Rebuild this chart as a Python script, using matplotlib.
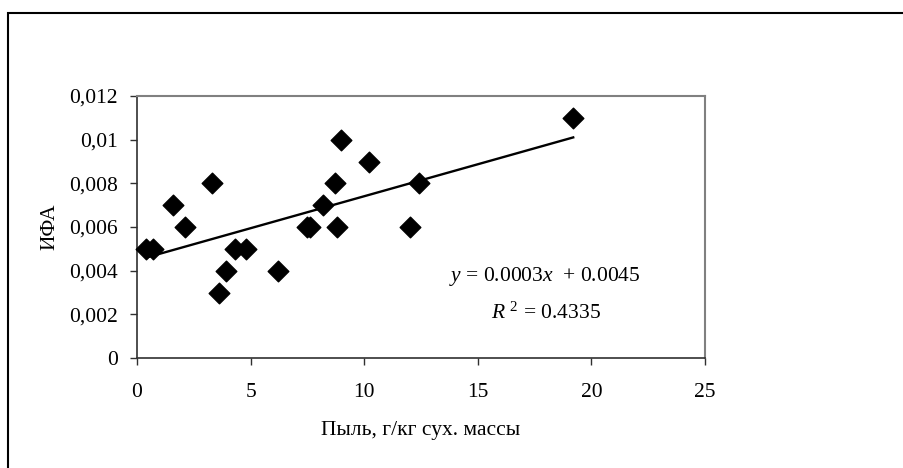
import numpy as np
import matplotlib
matplotlib.use("Agg")
import matplotlib.pyplot as plt
from matplotlib.patches import Rectangle
from matplotlib.ticker import FixedLocator

# Data
dust = [0.4, 0.7, 1.6, 2.1, 3.3, 3.6, 3.9, 4.3, 4.8, 6.2,
        7.5, 7.6, 8.2, 8.7, 8.8, 9.0, 10.2, 12.0, 12.4, 19.2]
ifa = [0.005, 0.005, 0.007, 0.006, 0.008, 0.003, 0.004, 0.005, 0.005, 0.004,
       0.006, 0.006, 0.007, 0.008, 0.006, 0.010, 0.009, 0.006, 0.008, 0.011]
x_ticks = [0, 5, 10, 15, 20, 25]
y_ticks = [0, 0.002, 0.004, 0.006, 0.008, 0.010, 0.012]
y_tick_labels = ["0", "0,002", "0,004", "0,006", "0,008", "0,01", "0,012"]
r2_text = "0.4335"

plt.rcParams['font.family'] = ['Liberation Serif', 'DejaVu Serif']
plt.rcParams['mathtext.fontset'] = 'custom'
plt.rcParams['mathtext.rm'] = 'Liberation Serif'
plt.rcParams['mathtext.it'] = 'Liberation Serif:italic'

fig = plt.figure(figsize=(9.04, 4.68), dpi=100)
W, H = 904, 468
ax = fig.add_axes([137 / W, 1 - 358 / H, (705 - 137) / W, (358 - 96) / H])

# outer frame
fig.patches.append(Rectangle((7.5 / W, -0.1), 1.2, 1 - 12.5 / H + 0.1,
                             transform=fig.transFigure, fill=False,
                             edgecolor='black', linewidth=1.5))

ax.scatter(dust, ifa, marker='D', s=10.5 ** 2, color='black', zorder=3,
           clip_on=False)

# linear trend from fitted coefficients
xd = np.array(dust)
yd = np.array(ifa)
b, a = np.polyfit(xd, yd, 1)
xs = np.array([xd.min(), xd.max()])
ax.plot(xs, a + b * xs, color='black', linewidth=1.7, zorder=2)

ax.set_xlim(0, 25)
ax.set_ylim(0, 0.012)
ax.xaxis.set_major_locator(FixedLocator(x_ticks))
ax.yaxis.set_major_locator(FixedLocator(y_ticks))
ax.set_yticklabels(y_tick_labels)
ax.set_xticklabels([str(t) for t in x_ticks])

for side in ['top', 'right']:
    ax.spines[side].set_color('#808080')
    ax.spines[side].set_linewidth(1.5)
for side in ['left', 'bottom']:
    ax.spines[side].set_color('#303030')
    ax.spines[side].set_linewidth(1.2)

ax.tick_params(axis='both', direction='out', length=5, width=1.0,
               color='#303030', labelsize=15.5, labelcolor='black')
ax.tick_params(axis='y', pad=9)
ax.tick_params(axis='x', pad=13)

ax.set_xlabel("Пыль, г/кг сух. массы", fontsize=15.5, labelpad=14)
ax.set_ylabel("ИФА", fontsize=15.5, labelpad=7)

ax.text(0.717, 0.31, r"$y$ = 0.0003$x$  + 0.0045", transform=ax.transAxes,
        ha='center', va='center', fontsize=15.5)
ax.text(0.72, 0.17, r"$R$ $^{2}$ = " + r2_text, transform=ax.transAxes,
        ha='center', va='center', fontsize=15.5)

fig.savefig("out.png", dpi=100)
